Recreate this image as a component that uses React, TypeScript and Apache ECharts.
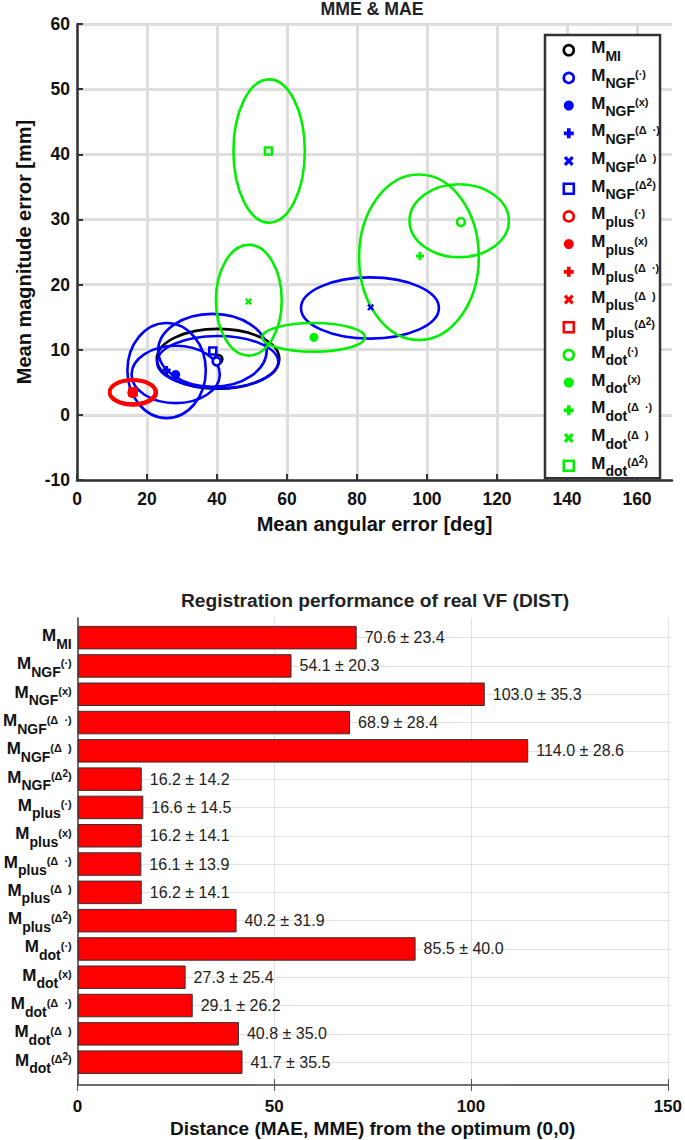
import * as echarts from "echarts";
import { useEffect, useRef } from "react";

const methodKeys = ["MI", "NGF1", "NGF2", "NGF3", "NGF4", "NGF5", "plus1", "plus2", "plus3", "plus4", "plus5", "dot1", "dot2", "dot3", "dot4", "dot5"];
const methodBases = ["MI", "NGF", "NGF", "NGF", "NGF", "NGF", "plus", "plus", "plus", "plus", "plus", "dot", "dot", "dot", "dot", "dot"];
const methodSups = ["", "(·)", "(x)", "(Δ  ·)", "(Δ  )", "(Δ²)", "(·)", "(x)", "(Δ  ·)", "(Δ  )", "(Δ²)", "(·)", "(x)", "(Δ  ·)", "(Δ  )", "(Δ²)"];
const methodColors = ["#000000", "#0000ff", "#0000ff", "#0000ff", "#0000ff", "#0000ff", "#ff0000", "#ff0000", "#ff0000", "#ff0000", "#ff0000", "#00f000", "#00f000", "#00f000", "#00f000", "#00f000"];

// mean angular error / mean magnitude error and the ellipse radii around them
const maeValues = [40.4, 39.9, 28.2, 25.6, 83.9, 38.8, 15.9, 15.9, 15.8, 15.9, 16, 109.7, 67.7, 98, 49, 54.7];
const mmeValues = [8.55, 8.2, 6.2, 6.9, 16.5, 9.8, 3.4, 3.4, 3.4, 3.4, 3.5, 29.6, 11.9, 24.4, 17.4, 40.5];
const ellipseCx = [40.3, 40.2, 28.2, 25.6, 83.7, 38.7, 15.9, 15.9, 15.8, 16, 16, 109.2, 67.6, 97.7, 49.1, 54.9];
const ellipseCy = [8.6, 8.1, 6.2, 6.8, 16.4, 9.9, 3.5, 3.55, 3.5, 3.4, 3.5, 29.8, 11.9, 24.2, 17.6, 40.5];
const ellipseRx = [17.5, 17.3, 12.6, 11.2, 19.7, 15.5, 6.4, 6.7, 6.5, 6.8, 6.6, 14.2, 14.7, 17.1, 9.4, 10.2];
const ellipseRy = [4.6, 4, 4.4, 7.3, 4.7, 5.6, 1.75, 1.9, 1.8, 1.95, 1.85, 5.6, 2.2, 12.7, 8.5, 11];

const distanceMeans = [70.6, 54.1, 103.0, 68.9, 114.0, 16.2, 16.6, 16.2, 16.1, 16.2, 40.2, 85.5, 27.3, 29.1, 40.8, 41.7];
const distanceStds = [23.4, 20.3, 35.3, 28.4, 28.6, 14.2, 14.5, 14.1, 13.9, 14.1, 31.9, 40.0, 25.4, 26.2, 35.0, 35.5];

const scatterXTicks = [0, 20, 40, 60, 80, 100, 120, 140, 160];
const scatterYTicks = [-10, 0, 10, 20, 30, 40, 50, 60];
const distanceTicks = [0, 50, 100, 150];

const plusPath = "path://M-1.1,-3H1.1V-1.1H3V1.1H1.1V3H-1.1V1.1H-3V-1.1H-1.1Z";
const crossPath = "path://M-3,-1.6L-1.6,-3L0,-1.4L1.6,-3L3,-1.6L1.4,0L3,1.6L1.6,3L0,1.4L-1.6,3L-3,1.6L-1.4,0Z";
// one marker per variant: (·), (x), (Δ ·), (Δ), (Δ²)
const variantMarkers = ["circle", "circle", plusPath, crossPath, "rect"];
const variantHollow = [true, false, false, false, true];
const variantSizes = [8, 9, 8, 7, 7];

const axisDark = "#333333";
const softGrid = "#dedede";
const thinGrid = "#e2e2e2";
const frameGrey = "#666666";
const font = "Liberation Sans";

const richLabel = (size: number) => ({
  m: { fontFamily: font, fontWeight: "bold", fontSize: size, color: "#111", padding: [0, 0, 7, 0] },
  sub: { fontFamily: font, fontWeight: "bold", fontSize: size - 3, color: "#111", padding: [9, 0, 0, 0] },
  sup: { fontFamily: font, fontWeight: "bold", fontSize: size - 6, color: "#111", padding: [0, 0, 9, 0] },
  pow: { fontFamily: font, fontWeight: "bold", fontSize: size - 7, color: "#111", padding: [0, 0, 14, 0] },
});

const methodLabel = (index: number) => {
  const sup = methodSups[index].replace("²", "}{pow|2}{sup|");
  return `{m|M}{sub|${methodBases[index]}}` + (sup ? `{sup|${sup}}` : "");
};

const variantOf = (index: number) => (index === 0 ? 0 : (index - 1) % 5);

const renderEllipse = (params: any, api: any) => {
  const center = api.coord([api.value(0), api.value(1)]);
  const size = api.size([api.value(2), api.value(3)]);
  return {
    type: "ellipse",
    shape: { cx: center[0], cy: center[1], rx: size[0], ry: size[1] },
    style: { fill: "none", stroke: methodColors[api.value(4)], lineWidth: 2.6 },
  };
};

export default function App() {
  const ref = useRef<HTMLDivElement | null>(null);

  useEffect(() => {
    if (!ref.current) return;
    const chart = echarts.init(ref.current, null, { renderer: "svg" });

    const ellipseSeries = methodKeys.map((key, index) => ({
      type: "custom",
      name: `${key} ellipse`,
      xAxisIndex: 0,
      yAxisIndex: 0,
      z: 3,
      silent: true,
      renderItem: renderEllipse,
      encode: { x: 0, y: 1 },
      data: [[ellipseCx[index], ellipseCy[index], ellipseRx[index], ellipseRy[index], index]],
    }));

    const markerSeries = methodKeys.map((key, index) => {
      const variant = variantOf(index);
      return {
        type: "scatter",
        name: key,
        xAxisIndex: 0,
        yAxisIndex: 0,
        // the red dot sits on top of the other red markers
        z: key === "plus2" ? 5 : 4,
        symbol: variantMarkers[variant],
        symbolSize: key === "plus2" ? 10 : variantSizes[variant],
        itemStyle: variantHollow[variant]
          ? { color: "#ffffff", opacity: 1, borderColor: methodColors[index], borderWidth: 2.6 }
          : { color: methodColors[index], opacity: 1 },
        data: [[maeValues[index], mmeValues[index]]],
      };
    });

    chart.setOption({
      animation: false,
      backgroundColor: "#ffffff",
      textStyle: { fontFamily: font },
      title: [
        { text: "MME & MAE", left: 372, top: 0, padding: 0, textAlign: "center", textStyle: { fontFamily: font, fontSize: 17.7, fontWeight: "bold", color: "#222" } },
        { text: "Registration performance of real VF (DIST)", left: 375, top: 591, padding: 0, textAlign: "center", textStyle: { fontFamily: font, fontSize: 19.2, fontWeight: "bold", color: "#222" } },
      ],
      grid: [
        { left: 77, top: 24, width: 595, height: 456 },
        { left: 77.5, top: 618, width: 593, height: 467 },
        { left: 77.5, top: 623.5, width: 593, height: 452.8 },
      ],
      legend: {
        left: 545,
        top: 35,
        width: 116,
        height: 447,
        orient: "vertical",
        padding: [4.2, 0, 0, 17.5],
        itemWidth: 10,
        itemHeight: 10,
        itemGap: 4.2,
        itemStyle: { borderWidth: "inherit" },
        backgroundColor: "#ffffff",
        borderColor: axisDark,
        borderWidth: 2.5,
        data: methodKeys,
        formatter: (name: string) => methodLabel(methodKeys.indexOf(name)),
        textStyle: { rich: richLabel(17), padding: [2, 0, 0, 12.5] },
      },
      xAxis: [
        {
          gridIndex: 0,
          type: "value",
          min: 0,
          max: 170,
          name: "Mean angular error [deg]",
          nameLocation: "middle",
          nameGap: 34,
          nameTextStyle: { fontFamily: font, fontSize: 20, fontWeight: "bold", color: "#111" },
          axisLine: { onZero: false, lineStyle: { color: axisDark, width: 2.5 } },
          axisTick: { customValues: scatterXTicks, inside: true, length: 6, lineStyle: { color: axisDark, width: 2 } },
          axisLabel: { customValues: scatterXTicks, margin: 10, fontFamily: font, fontSize: 17.5, fontWeight: "bold", color: "#111" },
          splitLine: { lineStyle: { color: softGrid, width: 3 } },
        },
        {
          gridIndex: 1,
          type: "value",
          min: 0,
          max: 150,
          interval: 50,
          name: "Distance (MAE, MME) from the optimum (0,0)",
          nameLocation: "middle",
          nameGap: 33.5,
          nameTextStyle: { fontFamily: font, fontSize: 19, fontWeight: "bold", color: "#111" },
          axisLine: { lineStyle: { color: frameGrey, width: 1.5 } },
          axisTick: { inside: true, length: 6, lineStyle: { color: "#555", width: 1 } },
          axisLabel: { margin: 13, fontFamily: font, fontSize: 17, fontWeight: "bold", color: "#111", customValues: distanceTicks },
          splitLine: { lineStyle: { color: thinGrid, width: 1 } },
        },
        {
          gridIndex: 1,
          type: "value",
          position: "top",
          min: 0,
          max: 150,
          interval: 50,
          axisLine: { lineStyle: { color: frameGrey, width: 1.5 } },
          axisTick: { inside: true, length: 6, lineStyle: { color: "#555", width: 1 } },
          axisLabel: { show: false },
          splitLine: { show: false },
        },
        { gridIndex: 2, type: "value", min: 0, max: 150, show: false },
      ],
      yAxis: [
        {
          gridIndex: 0,
          type: "value",
          min: -10,
          max: 60,
          interval: 10,
          name: "Mean magnitude error [mm]",
          nameLocation: "middle",
          nameGap: 29.5,
          nameTextStyle: { fontFamily: font, fontSize: 20, fontWeight: "bold", color: "#111" },
          axisLine: { show: true, onZero: false, lineStyle: { color: axisDark, width: 2.5 } },
          axisTick: { inside: true, length: 6, lineStyle: { color: axisDark, width: 2 } },
          axisLabel: { customValues: scatterYTicks, margin: 7, fontFamily: font, fontSize: 17.5, fontWeight: "bold", color: "#111" },
          splitLine: { lineStyle: { color: softGrid, width: 3 } },
        },
        {
          gridIndex: 1,
          type: "value",
          min: 0,
          max: 1,
          axisLine: { show: true, lineStyle: { color: frameGrey, width: 1.5 } },
          axisTick: { show: false },
          axisLabel: { show: false },
          splitLine: { show: false },
        },
        {
          gridIndex: 1,
          type: "value",
          position: "right",
          min: 0,
          max: 1,
          axisLine: { show: true, lineStyle: { color: frameGrey, width: 1.5 } },
          axisTick: { show: false },
          axisLabel: { show: false },
          splitLine: { show: false },
        },
        {
          gridIndex: 2,
          type: "category",
          inverse: true,
          data: methodKeys,
          z: 6,
          axisLine: { show: false },
          axisTick: { alignWithLabel: true, inside: true, length: 6, lineStyle: { color: "#444", width: 1 } },
          axisLabel: {
            margin: 6,
            interval: 0,
            align: "right",
            padding: [3, 0, 0, 0],
            formatter: (_: string, index: number) => methodLabel(index),
            rich: richLabel(17),
          },
        },
        {
          gridIndex: 2,
          type: "category",
          inverse: true,
          position: "right",
          data: methodKeys,
          axisLine: { show: false },
          axisTick: { alignWithLabel: true, inside: true, length: 6, lineStyle: { color: "#444", width: 1 } },
          axisLabel: { show: false },
          splitLine: { show: true, interval: 0, alignWithLabel: true, lineStyle: { color: thinGrid, width: 1 } },
        },
      ],
      series: [
        ...ellipseSeries,
        ...markerSeries,
        {
          type: "bar",
          name: "Distance",
          xAxisIndex: 3,
          yAxisIndex: 3,
          z: 3,
          barWidth: 23.5,
          itemStyle: { color: "#ff0000", borderColor: "#333", borderWidth: 1 },
          label: {
            show: true,
            position: "right",
            distance: 8,
            fontFamily: font,
            fontSize: 16,
            color: "#222",
            formatter: ({ dataIndex }: { dataIndex: number }) => `${distanceMeans[dataIndex].toFixed(1)} ± ${distanceStds[dataIndex].toFixed(1)}`,
          },
          data: distanceMeans,
        },
      ],
    });

    return () => chart.dispose();
  }, []);

  return <div ref={ref} style={{ position: "absolute", left: 0, top: 0, width: 685, height: 1140 }} />;
}
